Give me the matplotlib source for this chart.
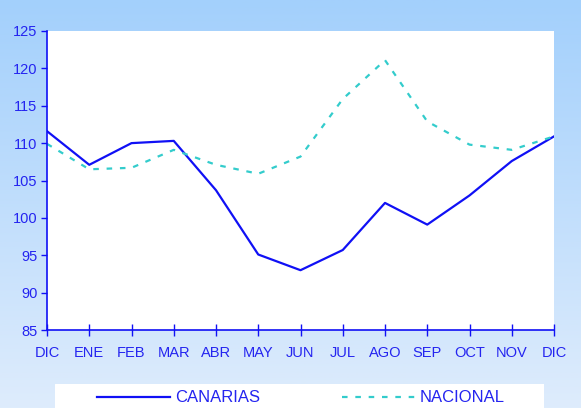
import numpy as np
import matplotlib
matplotlib.use("Agg")
import matplotlib.pyplot as plt
from matplotlib.lines import Line2D

months = ["DIC", "ENE", "FEB", "MAR", "ABR", "MAY", "JUN", "JUL", "AGO", "SEP", "OCT", "NOV", "DIC"]
canarias = [111.6, 107.1, 110.0, 110.3, 103.7, 95.1, 93.0, 95.7, 102.0, 99.1, 103.0, 107.6, 110.9]
nacional = [109.9, 106.5, 106.7, 109.1, 107.1, 105.9, 108.2, 115.9, 121.1, 112.9, 109.8, 109.1, 110.9]
yticks = [85, 90, 95, 100, 105, 110, 115, 120, 125]

W, H = 581, 408
fig = plt.figure(figsize=(W / 100, H / 100), dpi=100)
plt.rcParams['font.family'] = ['Liberation Sans', 'DejaVu Sans']

# background gradient
bg = fig.add_axes([0, 0, 1, 1], zorder=-10)
grad = np.linspace(0, 1, 256).reshape(-1, 1)
top = np.array([0xA3, 0xD0, 0xFC]) / 255
bot = np.array([0xDE, 0xEC, 0xFC]) / 255
img = top[None, None, :] * (1 - grad[:, :, None]) + bot[None, None, :] * grad[:, :, None]
bg.imshow(img, aspect='auto', extent=[0, 1, 0, 1], origin='upper')
bg.set_axis_off()

blue = '#1010F5'
cyan = '#33CCCC'
txt = '#2424F0'

x0, x1 = 47, 554
y0, y1 = 31, 330
ax = fig.add_axes([x0 / W, 1 - y1 / H, (x1 - x0) / W, (y1 - y0) / H])
ax.set_facecolor('white')
x = np.arange(len(months))
ax.plot(x, canarias, color=blue, lw=1.6, solid_joinstyle='round')
ax.plot(x, nacional, color=cyan, lw=1.6, dashes=(2.5, 3.5))
ax.set_xlim(0, len(months) - 1)
ax.set_ylim(85, 125)
ax.set_yticks(yticks)
ax.set_yticklabels([str(v) for v in yticks])
ax.set_xticks(x)
ax.set_xticklabels(months)
for s in ['top', 'right']:
    ax.spines[s].set_visible(False)
for s in ['left', 'bottom']:
    ax.spines[s].set_color(blue)
    ax.spines[s].set_linewidth(1.2)
ax.tick_params(axis='y', direction='out', length=4, width=1, color=blue, labelcolor=txt, labelsize=10.5, pad=3)
ax.tick_params(axis='x', direction='inout', length=8, width=1, color=blue, labelcolor=txt, labelsize=10.5, pad=7.5)

# legend box
lg = fig.add_axes([55 / W, 0, (544 - 55) / W, (H - 384) / H])
lg.set_xlim(55, 544)
lg.set_ylim(H, 384)
lg.set_facecolor('white')
lg.set_axis_off()
lg.add_patch(plt.Rectangle((55, 384), 489, 30, color='white', zorder=0))
lg.add_line(Line2D([97, 170], [397, 397], color=blue, lw=1.6))
lg.text(175, 397.5, "CANARIAS", color=txt, fontsize=12, va='center', ha='left')
lg.add_line(Line2D([342, 416], [397, 397], color=cyan, lw=1.6, dashes=(2.5, 3.5)))
lg.text(420, 397.5, "NACIONAL", color=txt, fontsize=12, va='center', ha='left')

fig.savefig('out.png', dpi=100)
